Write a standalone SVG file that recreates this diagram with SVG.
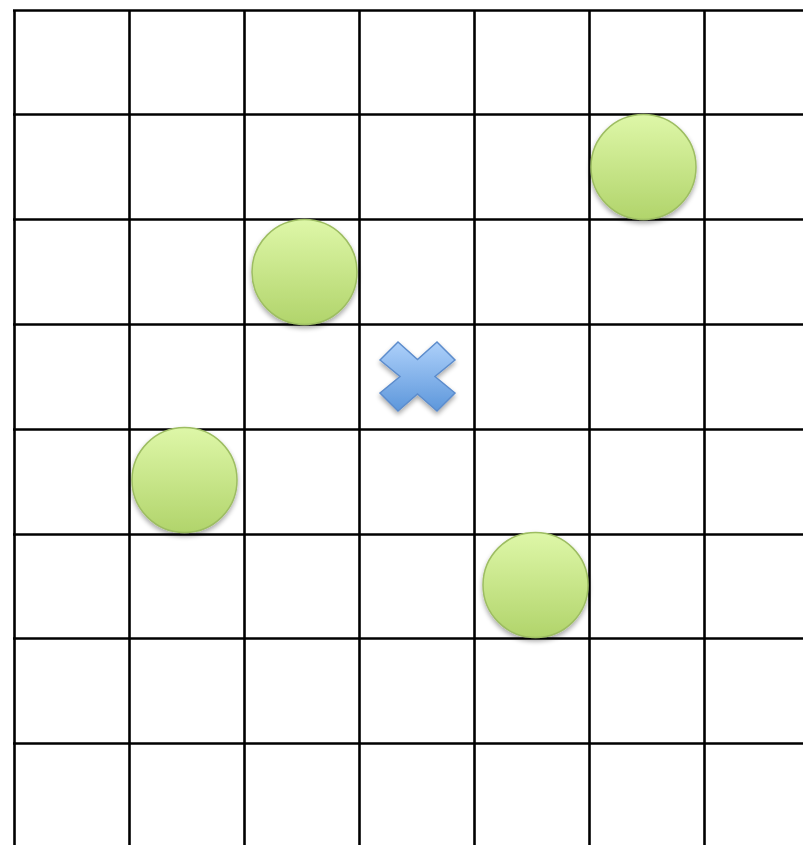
<svg xmlns="http://www.w3.org/2000/svg" width="803" height="845" viewBox="0 0 803 845">
<style>
.grid line{stroke:#000;stroke-width:2.6}
.dot{fill:url(#gg);stroke:#9dbd62;stroke-width:1.5;filter:url(#sh)}
.mark{fill:url(#bg);stroke:#5c8ccc;stroke-width:1.5;filter:url(#sh)}
</style>
<defs>
<linearGradient id="gg" x1="0" y1="0" x2="0" y2="1">
<stop offset="0" stop-color="#def7a8"/>
<stop offset="1" stop-color="#b1d46b"/>
</linearGradient>
<linearGradient id="bg" x1="0" y1="0" x2="0" y2="1">
<stop offset="0" stop-color="#add0fa"/>
<stop offset="1" stop-color="#5d97db"/>
</linearGradient>
<filter id="sh" x="-20%" y="-20%" width="140%" height="150%">
<feGaussianBlur in="SourceAlpha" stdDeviation="2.5"/>
<feOffset dy="3" result="b"/>
<feComponentTransfer><feFuncA type="linear" slope="0.35"/></feComponentTransfer>
<feMerge><feMergeNode/><feMergeNode in="SourceGraphic"/></feMerge>
</filter>
</defs>
<rect width="803" height="845" fill="#fff"/>
<g id="grid" class="grid">
<line x1="14.5" y1="10" x2="14.5" y2="845"/>
<line x1="129.5" y1="10" x2="129.5" y2="845"/>
<line x1="244.5" y1="10" x2="244.5" y2="845"/>
<line x1="359.5" y1="10" x2="359.5" y2="845"/>
<line x1="474.5" y1="10" x2="474.5" y2="845"/>
<line x1="589.5" y1="10" x2="589.5" y2="845"/>
<line x1="704.5" y1="10" x2="704.5" y2="845"/>
<line x1="13" y1="10.5" x2="803" y2="10.5"/>
<line x1="13" y1="114.5" x2="803" y2="114.5"/>
<line x1="13" y1="219.5" x2="803" y2="219.5"/>
<line x1="13" y1="324.5" x2="803" y2="324.5"/>
<line x1="13" y1="429.5" x2="803" y2="429.5"/>
<line x1="13" y1="534.5" x2="803" y2="534.5"/>
<line x1="13" y1="638.5" x2="803" y2="638.5"/>
<line x1="13" y1="743.5" x2="803" y2="743.5"/>
</g>
<g id="circle1"><circle class="dot" cx="643.5" cy="167" r="52.5"/></g>
<g id="circle2"><circle class="dot" cx="304.5" cy="272" r="52.5"/></g>
<g id="circle3"><circle class="dot" cx="184.5" cy="480" r="52.5"/></g>
<g id="circle4"><circle class="dot" cx="535.5" cy="585" r="52.5"/></g>
<g id="cross"><polygon class="mark" points="380,360 398,342 417.5,359.5 437,342 455,360 435,376.5 455,393 437,411 417.5,394 398,411 380,393 400,376.5"/></g>
</svg>
